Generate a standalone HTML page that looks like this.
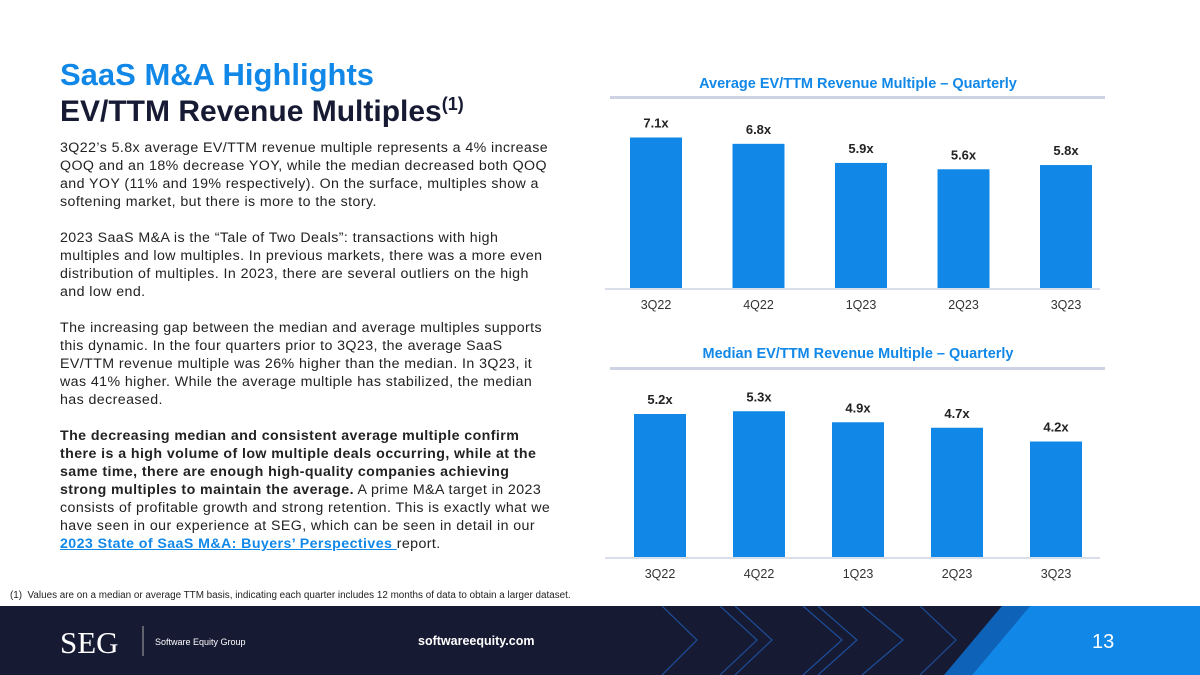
<!DOCTYPE html>
<html><head><meta charset="utf-8"><style>
body{margin:0;width:1200px;height:675px;overflow:hidden;background:#fff;font-family:"Liberation Sans",sans-serif;position:relative}
.h1{position:absolute;left:60px;top:57px;font-size:31px;font-weight:bold;color:#1188e8}
.h2{position:absolute;left:60px;top:94px;font-size:30px;font-weight:bold;color:#161a33}
.h2 sup{font-size:18px}
.body{position:absolute;left:60px;top:139px;width:498px;font-size:14.2px;letter-spacing:0.42px;line-height:18px;color:#222}
.body p{margin:0 0 18px 0}
.body a{color:#1188e8;font-weight:bold;text-decoration:underline}
.note{position:absolute;left:10px;top:590px;font-size:9.9px;color:#222}
.footer{position:absolute;left:0;top:606px;width:1200px;height:69px;background:#161a33;overflow:hidden}
</style></head><body>
<div class="h1">SaaS M&amp;A Highlights</div>
<div class="h2">EV/TTM Revenue Multiples<sup>(1)</sup></div>
<div class="body">
<p>3Q22’s 5.8x average EV/TTM revenue multiple represents a 4% increase QOQ and an 18% decrease YOY, while the median decreased both QOQ and YOY (11% and 19% respectively). On the surface, multiples show a softening market, but there is more to the story.</p>
<p>2023 SaaS M&amp;A is the “Tale of Two Deals”: transactions with high multiples and low multiples. In previous markets, there was a more even distribution of multiples. In 2023, there are several outliers on the high and low end.</p>
<p>The increasing gap between the median and average multiples supports this dynamic. In the four quarters prior to 3Q23, the average SaaS EV/TTM revenue multiple was 26% higher than the median. In 3Q23, it was 41% higher. While the average multiple has stabilized, the median has decreased.</p>
<p><b>The decreasing median and consistent average multiple confirm there is a high volume of low multiple deals occurring, while at the same time, there are enough high-quality companies achieving strong multiples to maintain the average.</b> A prime M&amp;A target in 2023 consists of profitable growth and strong retention. This is exactly what we have seen in our experience at SEG, which can be seen in detail in our <a>2023 State of SaaS M&amp;A: Buyers’ Perspectives </a>report.</p>
</div>
<div class="note">(1)&nbsp; Values are on a median or average TTM basis, indicating each quarter includes 12 months of data to obtain a larger dataset.</div>

<svg id="charts" width="1200" height="606" style="position:absolute;left:0;top:0"></svg>

<div class="footer">
<svg width="1200" height="69" style="position:absolute;left:0;top:0">
<g stroke="#1d4f9a" stroke-width="1.2" fill="none">
<polyline points="662,0 697,34 662,69"/><polyline points="720,0 757,34 720,69"/>
<polyline points="735,0 772,34 735,69"/><polyline points="803,0 842,34 803,69"/>
<polyline points="818,0 857,34 818,69"/><polyline points="862,0 903,34 862,69"/>
<polyline points="920,0 956,34 920,69"/>
</g>
<polygon points="1002,0 1030,0 972,69 944,69" fill="#0e62b8"/>
<polygon points="1030,0 1200,0 1200,69 972,69" fill="#1188e8"/>
<text x="60" y="47" font-family="Liberation Serif" font-size="31" fill="#fff">SEG</text>
<line x1="143" y1="20" x2="143" y2="50" stroke="#aaa" stroke-width="1"/>
<text x="155" y="39" font-size="9" fill="#fff">Software Equity Group</text>
<text x="418" y="39" font-size="12.5" font-weight="bold" fill="#fff">softwareequity.com</text>
<text x="1092" y="42" font-size="20" fill="#fff">13</text>
</svg>
</div>

<script>
const categories=["3Q22","4Q22","1Q23","2Q23","3Q23"];
const averageValues=[7.1,6.8,5.9,5.6,5.8];
const medianValues=[5.2,5.3,4.9,4.7,4.2];
const NS="http://www.w3.org/2000/svg";
const svg=document.getElementById('charts');
function mk(tag,attrs,txt){const e=document.createElementNS(NS,tag);for(const k in attrs)e.setAttribute(k,attrs[k]);if(txt!=null)e.textContent=txt;svg.appendChild(e);return e;}
function chart(cfg,vals){
  const t=mk('text',{x:cfg.cx,y:cfg.titleY,'text-anchor':'middle','font-size':14.5,'font-weight':'bold',fill:'#1188e8'},cfg.title);
  
  
  const sep=mk('rect',{x:610,y:cfg.sepY,width:495,height:3,fill:'#cdd3e4'});
  
  
  const ax=mk('line',{x1:605,x2:1100,y1:cfg.base+1,y2:cfg.base+1,stroke:'#cdd3e4','stroke-width':1.5});
  
  
  const xs=i=>cfg.x0+i*cfg.step;
  const ys=v=>cfg.base-v*cfg.scale;
  categories.forEach((c,i)=>{
    const v=vals[i];
    const b=mk('rect',{x:xs(i)-26,y:ys(v),width:52,height:cfg.base-ys(v),fill:'#1188e8'});
    
    
    const l=mk('text',{x:xs(i),y:ys(v)-10,'text-anchor':'middle','font-size':13,'font-weight':'bold',fill:'#222'},v.toFixed(1)+'x');
    
    
    const tl=mk('text',{x:xs(i),y:cfg.base+21,'text-anchor':'middle','font-size':12.5,fill:'#333'},c);
    
    
  });
}
chart({key:'average',title:'Average EV/TTM Revenue Multiple – Quarterly',cx:858,titleY:88,sepY:96,base:288,scale:21.2,x0:656,step:102.5},averageValues);
chart({key:'median',title:'Median EV/TTM Revenue Multiple – Quarterly',cx:858,titleY:358,sepY:367,base:557,scale:27.5,x0:660,step:99},medianValues);
</script>
</body></html>
